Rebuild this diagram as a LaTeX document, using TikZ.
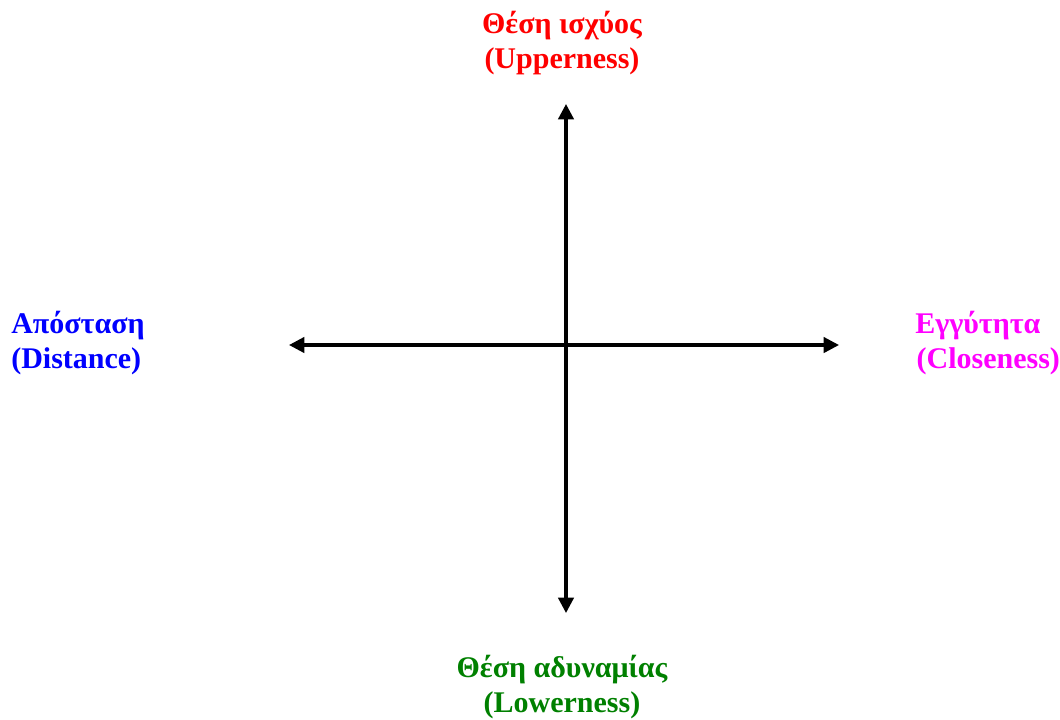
\documentclass[tikz,border=0pt]{standalone}
\usepackage{fontspec}
\setmainfont{Liberation Serif}
\usepackage{xcolor}
\usetikzlibrary{arrows.meta,positioning}
\definecolor{upperred}{RGB}{255,0,0}
\definecolor{distblue}{RGB}{0,0,255}
\definecolor{closemagenta}{RGB}{255,0,255}
\definecolor{lowergreen}{RGB}{0,128,0}

\begin{document}
\begin{tikzpicture}[
  x=0.75pt, y=-0.75pt,
  pole/.style={inner sep=0pt, font=\bfseries\fontsize{22.5}{26}\selectfont},
  axis/.style={{Triangle[length=11.5pt,width=11.5pt]}-{Triangle[length=11.5pt,width=11.5pt]}, line width=2.4pt},
]
  \useasboundingbox (0,0) rectangle (1060,719);

  % Axis end points
  \coordinate (o) at (566,345);
  \coordinate (up) at (566,104);
  \coordinate (down) at (566,613);
  \coordinate (left) at (289,345);
  \coordinate (right) at (839,345);

  % Axes
  \draw[axis] (left) -- (right);
  \draw[axis] (up) -- (down);

  % Pole labels (anchored at the baseline of the last line)
  \node[pole, text=upperred, align=center, anchor=base] (upper) at (562,68) {Θέση ισχύος\\(Upperness)};
  \node[pole, text=distblue, align=left, anchor=base west] (distance) at (11,368) {Απόσταση\\(Distance)};
  \node[pole, text=closemagenta, align=left, anchor=base west] (closeness) at (915,368) {Εγγύτητα\\\hspace{1pt}(Closeness)};
  \node[pole, text=lowergreen, align=center, anchor=base] (lower) at (562,712) {Θέση αδυναμίας\\(Lowerness)};
\end{tikzpicture}
\end{document}
